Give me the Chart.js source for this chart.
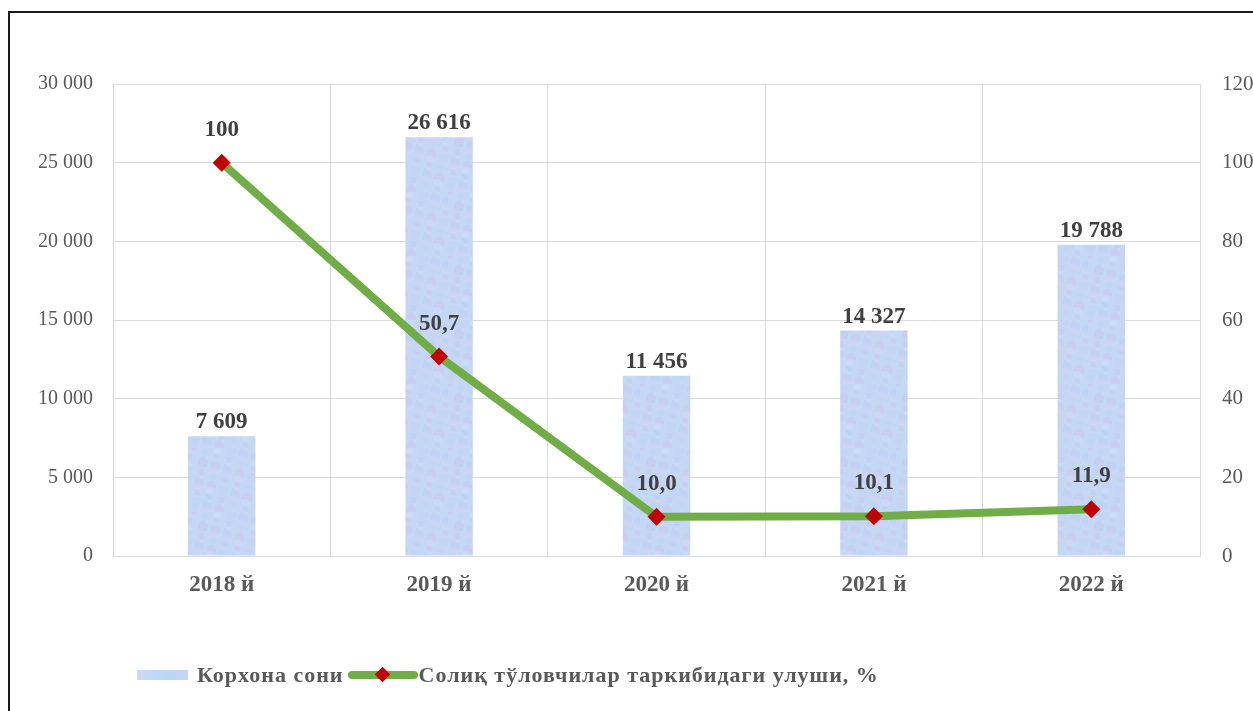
<!DOCTYPE html>
<html>
<head>
<meta charset="utf-8">
<script src="https://cdn.jsdelivr.net/npm/chart.js@4/dist/chart.umd.min.js"></script>
<style>
  html, body { margin: 0; padding: 0; background: #fff; overflow: hidden; }
  #wrap { position: relative; width: 1253px; height: 711px; overflow: hidden; }
  #frame { position: absolute; left: 8px; top: 11px; width: 2000px; height: 2000px;
    border-left: 2px solid #1a1a1a; border-top: 2px solid #1a1a1a; }
  #chart { position: absolute; left: 0; top: 0; }
  #legend { position: absolute; left: 137px; top: 662px; display: flex; align-items: center;
    font: bold 22px "Liberation Serif", "Times New Roman", serif; letter-spacing: 1px;
    color: #595959; white-space: nowrap; }
  .barIcon { width: 51px; height: 10px; margin-right: 9px;
    background: linear-gradient(90deg, #cbdaf4, #b9d6f8 60%, #c9d4f3); }
  .lineIcon { position: relative; width: 70px; height: 8px; margin: 0 1px 0 4px; background: #70ad47; border-radius: 4px; }
  .lineIcon::after { content: ""; position: absolute; left: 29px; top: -2px; width: 11px; height: 11px;
    background: #c00000; transform: rotate(45deg); }
</style>
</head>
<body>
<div id="wrap">
  <canvas id="chart" width="1300" height="711"></canvas>
  <div id="frame"></div>
  <div id="legend">
    <span class="barIcon"></span><span>Корхона сони</span>
    <span class="lineIcon"></span><span>Солиқ тўловчилар таркибидаги улуши, %</span>
  </div>
</div>
<script>
const categories = ["2018 й", "2019 й", "2020 й", "2021 й", "2022 й"];
const enterprises = [7609, 26616, 11456, 14327, 19788];
const taxShare = [100, 50.7, 10.0, 10.1, 11.9];
const leftTicks = [0, 5000, 10000, 15000, 20000, 25000, 30000];
const rightTicks = [0, 20, 40, 60, 80, 100, 120];

const serif = '"Liberation Serif", "Times New Roman", serif';

function spaced(n) {
  return String(Math.round(n)).replace(/\B(?=(\d{3})+(?!\d))/g, " ");
}
function decimal(n) {
  return n === 100 ? "100" : n.toFixed(1).replace(".", ",");
}

// mottled light blue / lavender texture for the bars
function makePattern() {
  const c = document.createElement("canvas");
  c.width = 64;
  c.height = 64;
  const g = c.getContext("2d");
  g.fillStyle = "#c4d8f6";
  g.fillRect(0, 0, 64, 64);
  const tones = ["#d3cbef", "#b6d6f8", "#dae3f8", "#cdc6ee", "#bcd9f7", "#c9d2f2"];
  for (let i = 0; i < 140; i++) {
    const x = (i * 29) % 64;
    const y = (i * 47 + 5) % 64;
    const r = 2 + ((i * 5) % 4);
    g.globalAlpha = 0.35;
    g.fillStyle = tones[i % tones.length];
    g.beginPath();
    g.arc(x, y, r, 0, Math.PI * 2);
    g.fill();
  }
  return g.createPattern(c, "repeat");
}

const valueLabels = {
  id: "valueLabels",
  afterDatasetsDraw(chart) {
    const ctx = chart.ctx;
    ctx.save();
    ctx.fillStyle = "#404040";
    ctx.textAlign = "center";
    ctx.textBaseline = "middle";
    ctx.font = "bold 23px " + serif;
    chart.getDatasetMeta(1).data.forEach((el, i) => {
      ctx.fillText(spaced(enterprises[i]), el.x, el.y - 14);
    });
    chart.getDatasetMeta(0).data.forEach((el, i) => {
      ctx.fillText(decimal(taxShare[i]), el.x, el.y - 33);
    });
    ctx.restore();
  }
};

const ctx = document.getElementById("chart").getContext("2d");
new Chart(ctx, {
  data: {
    labels: categories,
    datasets: [
      {
        type: "line",
        label: "Солиқ тўловчилар таркибидаги улуши, %",
        data: taxShare,
        yAxisID: "y1",
        borderColor: "#70ad47",
        borderWidth: 8,
        tension: 0,
        pointStyle: "rectRot",
        pointRadius: 9,
        pointBackgroundColor: "#c00000",
        pointBorderColor: "#c00000",
        pointBorderWidth: 0,
        order: 0
      },
      {
        type: "bar",
        label: "Корхона сони",
        data: enterprises,
        yAxisID: "y",
        backgroundColor: makePattern(),
        barPercentage: 0.31,
        categoryPercentage: 1,
        order: 1
      }
    ]
  },
  options: {
    responsive: false,
    animation: false,
    devicePixelRatio: 1,
    layout: { padding: { top: 84, left: 0, right: 0, bottom: 0 } },
    plugins: {
      legend: { display: false },
      tooltip: { enabled: false }
    },
    scales: {
      x: {
        offset: true,
        grid: { color: "#d9d9d9", drawTicks: false, offset: true },
        border: { color: "#d9d9d9" },
        ticks: {
          color: "#595959",
          padding: 15,
          font: { family: serif, size: 23, weight: "bold" }
        },
        afterFit(scale) { scale.height = 155; }
      },
      y: {
        position: "left",
        min: 0,
        max: 30000,
        afterBuildTicks(scale) { scale.ticks = leftTicks.map(v => ({ value: v })); },
        grid: { color: "#d9d9d9", drawTicks: false },
        border: { color: "#d9d9d9" },
        ticks: {
          color: "#595959",
          padding: 20,
          font: { family: serif, size: 20 },
          callback: v => spaced(v)
        },
        afterFit(scale) { scale.width = 113; }
      },
      y1: {
        position: "right",
        min: 0,
        max: 120,
        afterBuildTicks(scale) { scale.ticks = rightTicks.map(v => ({ value: v })); },
        grid: { drawOnChartArea: false, drawTicks: false },
        border: { color: "#d9d9d9" },
        ticks: {
          color: "#595959",
          padding: 22,
          font: { family: serif, size: 21 }
        },
        afterFit(scale) { scale.width = 100; }
      }
    }
  },
  plugins: [valueLabels]
});
</script>
</body>
</html>
